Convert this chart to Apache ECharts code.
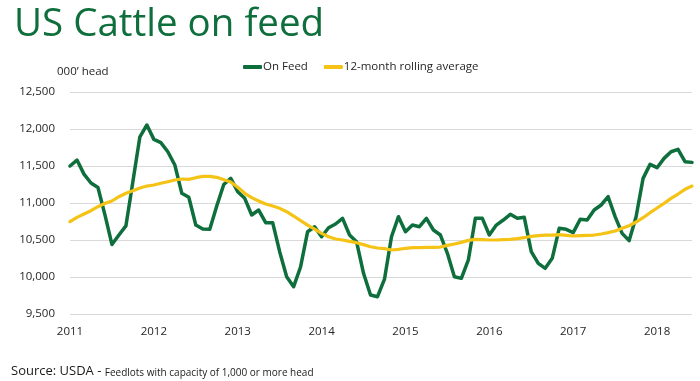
<!DOCTYPE html>
<html>
<head>
<meta charset="utf-8">
<script src="https://cdn.jsdelivr.net/npm/echarts@6/dist/echarts.min.js"></script>
<style>
html,body{margin:0;padding:0;background:#fff;}
#chart{width:700px;height:381px;}
</style>
</head>
<body>
<div id="chart"></div>
<script>
// Monthly categories Jan 2011 - Jun 2018
var months = [];
for (var y = 2011; y <= 2018; y++) {
  for (var m = 1; m <= 12; m++) {
    if (y === 2018 && m > 6) break;
    months.push(y + '-' + (m < 10 ? '0' + m : m));
  }
}
var yearLabels = ['2011','2012','2013','2014','2015','2016','2017','2018'];

var onFeed = [
  11500, 11580, 11390, 11270, 11210, 10840, 10440, 10567, 10690, 11290, 11895, 12054,
  11860, 11815, 11693, 11513, 11131, 11077, 10702, 10648, 10644, 10960, 11250, 11333,
  11153, 11063, 10838, 10905, 10734, 10734, 10342, 10004, 9869, 10139, 10612, 10679,
  10544, 10666, 10716, 10793, 10567, 10477, 10050, 9757, 9734, 9970, 10544, 10815,
  10612, 10702, 10680, 10793, 10635, 10567, 10320, 10004, 9982, 10230, 10793, 10793,
  10567, 10702, 10770, 10847, 10793, 10806, 10342, 10185, 10117, 10252, 10658, 10644,
  10599, 10779, 10770, 10905, 10973, 11085, 10815, 10590, 10491, 10815, 11333, 11522,
  11477, 11603, 11693, 11725, 11558, 11549
];

var rollingAvg = [
  10747, 10806, 10851, 10896, 10950, 10995, 11027, 11085, 11131, 11166, 11203, 11229,
  11243, 11266, 11288, 11311, 11324, 11320, 11342, 11360, 11360, 11347, 11315, 11283,
  11212, 11131, 11072, 11027, 10986, 10959, 10928, 10882, 10824, 10761, 10702, 10648,
  10590, 10544, 10513, 10500, 10482, 10464, 10437, 10409, 10392, 10383, 10365, 10374,
  10388, 10397, 10397, 10401, 10401, 10405, 10428, 10446, 10468, 10495, 10509, 10505,
  10500, 10500, 10505, 10509, 10518, 10531, 10550, 10560, 10565, 10567, 10572, 10563,
  10554, 10558, 10563, 10567, 10581, 10599, 10621, 10658, 10693, 10743, 10801, 10869,
  10932, 10995, 11063, 11121, 11185, 11229
];

var FONT = "'Open Sans', 'Liberation Sans', sans-serif";
var chart = echarts.init(document.getElementById('chart'));
chart.setOption({
  animation: false,
  backgroundColor: '#ffffff',
  title: [
    {
      text: 'US Cattle on feed',
      left: 9, top: 1,
      textStyle: { color: '#0E6E3C', fontSize: 38.5, fontWeight: 'normal', fontFamily: FONT }
    },
    {
      text: '000\u2019 head',
      left: 52, top: 61,
      textStyle: { color: '#262626', fontSize: 11.5, fontWeight: 'normal', fontFamily: FONT }
    },
    {
      text: '{a|Source: USDA - }{b|Feedlots with capacity of 1,000 or more head}',
      left: 6, top: 360,
      textStyle: {
        fontFamily: FONT, fontWeight: 'normal',
        rich: {
          a: { fontSize: 13, color: '#1a1a1a', fontFamily: FONT, fontWeight: 'normal', verticalAlign: 'bottom' },
          b: { fontSize: 10, color: '#1a1a1a', fontFamily: FONT, fontWeight: 'normal', verticalAlign: 'bottom' }
        }
      }
    }
  ],
  legend: {
    left: 243, top: 61, padding: 0,
    icon: 'roundRect',
    itemWidth: 19, itemHeight: 4,
    itemGap: 16,
    textStyle: { color: '#262626', fontSize: 11.5, fontFamily: FONT, padding: [0, 0, 0, -4] },
    data: ['On Feed', '12-month rolling average']
  },
  grid: { left: 70, right: 8, top: 92, bottom: 67 },
  xAxis: {
    type: 'category',
    data: months,
    boundaryGap: false,
    axisLine: { show: false },
    axisTick: { show: false },
    axisLabel: {
      interval: 11,
      margin: 12,
      color: '#262626',
      fontSize: 11.5,
      fontFamily: FONT,
      formatter: function (v) { var yr = v.slice(0, 4); return yearLabels.indexOf(yr) >= 0 ? yr : ''; }
    },
    splitLine: { show: false }
  },
  yAxis: {
    type: 'value',
    min: 9500, max: 12500, interval: 500,
    axisLine: { show: false },
    axisTick: { show: false },
    axisLabel: {
      margin: 15,
      color: '#262626',
      fontSize: 11.5,
      fontFamily: FONT,
      formatter: function (v) { return v.toLocaleString('en-US'); }
    },
    splitLine: { lineStyle: { color: '#D9D9D9', width: 1 } }
  },
  series: [
    {
      name: 'On Feed', type: 'line', data: onFeed,
      symbol: 'none', smooth: false,
      itemStyle: { color: '#0E6E3C' },
      lineStyle: { color: '#0E6E3C', width: 3.5, join: 'round', cap: 'round' }
    },
    {
      name: '12-month rolling average', type: 'line', data: rollingAvg,
      symbol: 'none', smooth: false,
      itemStyle: { color: '#F5C316' },
      lineStyle: { color: '#F5C316', width: 3.2, join: 'round', cap: 'round' }
    }
  ]
});
</script>
</body>
</html>
